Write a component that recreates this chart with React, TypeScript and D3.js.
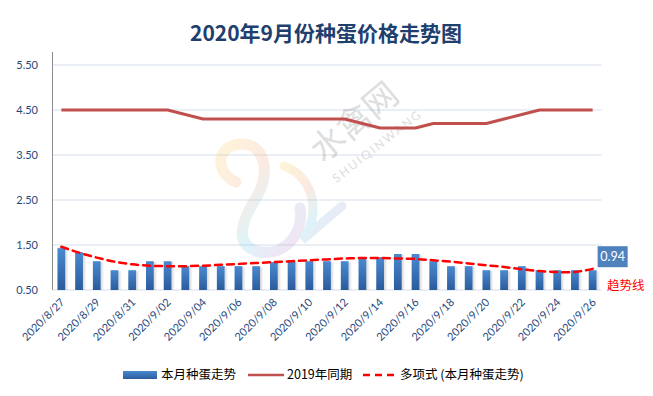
import React from 'react'
import * as d3 from 'd3'

const dates = [
  '2020/8/27', '2020/8/28', '2020/8/29', '2020/8/30', '2020/8/31',
  '2020/9/01', '2020/9/02', '2020/9/03', '2020/9/04', '2020/9/05', '2020/9/06',
  '2020/9/07', '2020/9/08', '2020/9/09', '2020/9/10', '2020/9/11', '2020/9/12',
  '2020/9/13', '2020/9/14', '2020/9/15', '2020/9/16', '2020/9/17', '2020/9/18',
  '2020/9/19', '2020/9/20', '2020/9/21', '2020/9/22', '2020/9/23', '2020/9/24',
  '2020/9/25', '2020/9/26',
]
// 本月种蛋走势
const thisMonth = [
  1.43, 1.34, 1.14, 0.94, 0.94, 1.14, 1.14, 1.03, 1.03, 1.03, 1.03, 1.03, 1.12,
  1.14, 1.14, 1.14, 1.14, 1.19, 1.23, 1.3, 1.3, 1.14, 1.03, 1.03, 0.94, 0.94,
  1.03, 0.94, 0.94, 0.94, 0.94,
]
// 2019年同期
const lastYear = [
  4.5, 4.5, 4.5, 4.5, 4.5, 4.5, 4.5, 4.4, 4.3, 4.3, 4.3, 4.3, 4.3, 4.3, 4.3,
  4.3, 4.3, 4.2, 4.1, 4.1, 4.1, 4.2, 4.2, 4.2, 4.2, 4.3, 4.4, 4.5, 4.5, 4.5, 4.5,
]
// 多项式趋势线
const trend = [
  1.46, 1.33, 1.22, 1.13, 1.07, 1.04, 1.03, 1.03, 1.04, 1.06, 1.08, 1.1, 1.12,
  1.14, 1.16, 1.18, 1.2, 1.21, 1.21, 1.2, 1.19, 1.16, 1.13, 1.09, 1.05, 1.01,
  0.96, 0.92, 0.9, 0.9, 0.97,
]
const yTicks = [0.5, 1.5, 2.5, 3.5, 4.5, 5.5]

const W = 653
const H = 396
const numFont = "Lato, 'Noto Sans CJK SC', sans-serif"
const cjkFont = "'Noto Sans CJK SC', 'Noto Sans', sans-serif"
const blueText = '#1f497d'

export default function App() {
  const x = d3.scaleBand().domain(dates).range([52.5, 601.5]).padding(0)
  const y = d3.scaleLinear().domain([0.5, 5.5]).range([290, 65])
  const bw = x.bandwidth() * 0.44
  const cx = (d: string) => (x(d) as number) + x.bandwidth() / 2

  const line2019 = d3.line<number>().x((_, i) => cx(dates[i])).y(v => y(v))
  const trendLine = d3
    .line<number>()
    .x((_, i) => cx(dates[i]))
    .y(v => y(v))
    .curve(d3.curveCatmullRom.alpha(0.5))

  const lastIdx = dates.length - 1

  return (
    <svg width={W} height={H} style={{ position: 'absolute', left: 0, top: 0 }}>
      <defs>
        <linearGradient id="barGrad" x1="0" y1="0" x2="0" y2="1">
          <stop offset="0" stopColor="#4a89d0" />
          <stop offset="1" stopColor="#2b5c9c" />
        </linearGradient>
        <linearGradient id="shadowGrad" x1="0" y1="0" x2="1" y2="0">
          <stop offset="0" stopColor="#000" stopOpacity="0.16" />
          <stop offset="1" stopColor="#000" stopOpacity="0" />
        </linearGradient>
        <linearGradient id="logoGrad" x1="0" y1="0" x2="1" y2="1">
          <stop offset="0" stopColor="#f6c542" />
          <stop offset="0.35" stopColor="#f39a6a" />
          <stop offset="0.6" stopColor="#5cc6e0" />
          <stop offset="1" stopColor="#d76fc4" />
        </linearGradient>
      </defs>
      <rect width={W} height={H} fill="#fff" />

      <text
        x={326}
        y={41}
        textAnchor="middle"
        fontFamily={cjkFont}
        fontWeight="bold"
        fontSize={21}
        fill="#1f3f6e"
      >
        2020年9月份种蛋价格走势图
      </text>

      {/* grid */}
      {yTicks.map(t => (
        <line key={t} x1={52.5} x2={601.5} y1={y(t)} y2={y(t)} stroke="#d3dfec" strokeWidth={1.2} />
      ))}
      <line x1={52.5} x2={52.5} y1={52} y2={y(0.5)} stroke="#8c8c8c" strokeWidth={1} />
      {yTicks.map(t => (
        <text
          key={t}
          x={38}
          y={y(t)}
          dy="0.35em"
          textAnchor="end"
          fontFamily={numFont}
          fontSize={11}
          fill={blueText}
        >
          {t.toFixed(2)}
        </text>
      ))}

      {/* watermark */}
      <g opacity={0.2} fill="none" stroke="url(#logoGrad)" strokeLinecap="round">
        <path d="M236 182 C214 172 216 146 240 144 C264 142 272 172 256 198 C240 224 234 246 260 252 C286 256 304 232 300 208" strokeWidth={11} />
        <path d="M284 166 C314 176 322 216 302 240 L342 206" strokeWidth={9} />
      </g>
      <g opacity={0.28} fill="#8a8a8a">
        <text
          transform="translate(356,124) rotate(-40)"
          textAnchor="middle"
          dominantBaseline="middle"
          fontFamily={cjkFont}
          fontSize={34}
        >
          水禽网
        </text>
        <text
          transform="translate(378,147) rotate(-38)"
          textAnchor="middle"
          dominantBaseline="middle"
          fontFamily={numFont}
          fontSize={12}
          letterSpacing={2}
        >
          SHUIQINWANG
        </text>
      </g>

      {/* bars */}
      {thisMonth.map((v, i) => {
        const bx = cx(dates[i]) - bw / 2
        return (
          <g key={i}>
            <rect x={bx + bw} y={y(v) + 1} width={3.5} height={y(0.5) - y(v) - 1} fill="url(#shadowGrad)" />
            <rect x={bx} y={y(v)} width={bw} height={y(0.5) - y(v)} fill="url(#barGrad)" />
          </g>
        )
      })}

      <path d={line2019(lastYear) ?? ''} fill="none" stroke="#c0504d" strokeWidth={3} strokeLinejoin="round" />
      <path
        d={trendLine(trend) ?? ''}
        fill="none"
        stroke="#ff0000"
        strokeWidth={2.5}
        strokeDasharray="7,5"
        strokeLinecap="round"
      />

      {/* data label */}
      <rect x={cx(dates[lastIdx]) + 5} y={y(thisMonth[lastIdx]) - 24} width={30} height={21} fill="#4f81bd" />
      <text
        x={cx(dates[lastIdx]) + 20}
        y={y(thisMonth[lastIdx]) - 13.5}
        dy="0.35em"
        textAnchor="middle"
        fontFamily={numFont}
        fontSize={12.5}
        fill="#fff"
      >
        {thisMonth[lastIdx].toFixed(2)}
      </text>
      <text x={607} y={290} fontFamily={cjkFont} fontSize={12.5} fill="#ff0000">
        趋势线
      </text>

      {/* x labels */}
      {dates.map((d, i) =>
        i % 2 === 0 ? (
          <text
            key={d}
            transform={`translate(${cx(d) + 4},${y(0.5) + 13}) rotate(-45)`}
            textAnchor="end"
            fontFamily={numFont}
            fontSize={11}
            fill={blueText}
          >
            {d}
          </text>
        ) : null
      )}

      {/* legend */}
      <rect x={123} y={371} width={34} height={8} fill="url(#barGrad)" />
      <text x={161} y={375} dy="0.35em" fontFamily={cjkFont} fontSize={12.5} fill="#000">
        本月种蛋走势
      </text>
      <line x1={248} x2={284} y1={375} y2={375} stroke="#c0504d" strokeWidth={2.5} />
      <text x={287} y={375} dy="0.35em" fontFamily={cjkFont} fontSize={12.5} fill="#000">
        2019年同期
      </text>
      <line x1={363} x2={397} y1={375} y2={375} stroke="#ff0000" strokeWidth={2.5} strokeDasharray="7,5" />
      <text x={400} y={375} dy="0.35em" fontFamily={cjkFont} fontSize={12.5} fill="#000">
        多项式 (本月种蛋走势)
      </text>
    </svg>
  )
}
